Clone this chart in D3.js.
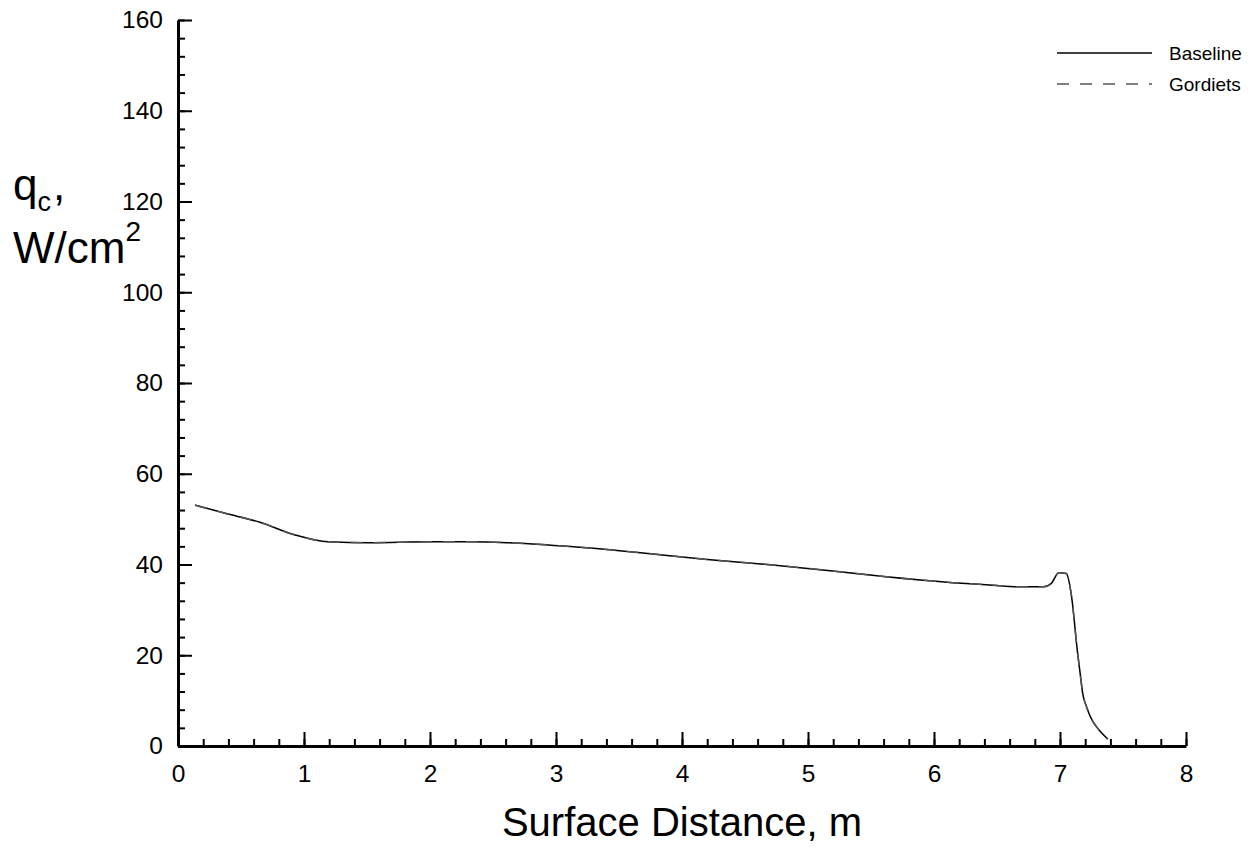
<!DOCTYPE html>
<html>
<head>
<meta charset="utf-8">
<script src="https://cdn.jsdelivr.net/npm/d3@7.9.0/dist/d3.min.js"></script>
<style>
  body { margin: 0; background: #fff; }
  svg { display: block; font-family: Arial, "Liberation Sans", sans-serif; }
</style>
</head>
<body>
<div id="chart"></div>
<script>
// surface distance (m) and convective heating (W/cm2)
const distance = [0.135, 0.36, 0.65, 0.93, 1.19, 1.52, 2.0, 2.32, 2.61, 3.14, 3.67, 4.2, 4.72,
  5.25, 5.62, 6.15, 6.44, 6.68, 6.87, 6.93, 6.99, 7.05, 7.09, 7.14, 7.16, 7.18, 7.21, 7.24, 7.28, 7.32, 7.38];
const baseline = [53.1, 51.4, 49.3, 46.5, 45.0, 44.8, 45.0, 45.0, 44.8, 43.9, 42.6, 41.1, 39.9,
  38.4, 37.3, 36.0, 35.5, 35.1, 35.1, 35.8, 38.2, 38.0, 33.3, 20.4, 16.0, 11.6, 8.7, 6.5, 4.6, 3.2, 1.5];
// Gordiets curve lies right on top of the baseline one
const gordiets = [53.1, 51.4, 49.3, 46.5, 45.0, 44.8, 45.0, 45.0, 44.8, 43.9, 42.6, 41.1, 39.9,
  38.4, 37.3, 36.0, 35.5, 35.1, 35.1, 35.8, 38.2, 38.0, 33.3, 20.4, 16.0, 11.6, 8.7, 6.5, 4.6, 3.2, 1.5];

const xTicks = [0, 1, 2, 3, 4, 5, 6, 7, 8];
const yTicks = [0, 20, 40, 60, 80, 100, 120, 140, 160];
const seriesNames = ['Baseline', 'Gordiets'];

const width = 1251;
const height = 848;
const plotLeft = 178, plotRight = 1186, plotTop = 20, plotBottom = 746;

const svg = d3.select('#chart')
  .append('svg')
  .attr('width', width)
  .attr('height', height);

const x = d3.scaleLinear().domain([0, 8]).range([plotLeft, plotRight]);
const y = d3.scaleLinear().domain([0, 160]).range([plotBottom, plotTop]);

// minor ticks first, no labels
svg.append('g')
  .attr('transform', `translate(0,${plotBottom})`)
  .call(d3.axisBottom(x).tickValues(d3.range(0, 8.01, 0.2)).tickSize(-7).tickFormat(''))
  .call(g => g.select('.domain').remove());
svg.append('g')
  .attr('transform', `translate(${plotLeft},0)`)
  .call(d3.axisLeft(y).tickValues(d3.range(0, 160.1, 4)).tickSize(-7).tickFormat(''))
  .call(g => g.select('.domain').remove());

const xAxis = svg.append('g')
  .attr('transform', `translate(0,${plotBottom})`)
  .call(d3.axisBottom(x).tickValues(xTicks).tickSize(-14).tickSizeOuter(0).tickPadding(19).tickFormat(d3.format('d')));
const yAxis = svg.append('g')
  .attr('transform', `translate(${plotLeft},0)`)
  .call(d3.axisLeft(y).tickValues(yTicks).tickSize(-14).tickSizeOuter(0).tickPadding(15).tickFormat(d3.format('d')));

svg.selectAll('.tick line').attr('stroke', '#000').attr('stroke-width', 2);
svg.selectAll('.domain').attr('stroke', '#000').attr('stroke-width', 3);
[xAxis, yAxis].forEach(g => g.selectAll('text')
  .attr('fill', '#000')
  .style('font-size', '24.5px')
  .style('font-family', 'Arial, "Liberation Sans", sans-serif'));

// axis titles
svg.append('text')
  .attr('x', 682).attr('y', 836)
  .attr('text-anchor', 'middle')
  .style('font-size', '40px')
  .text('Surface Distance, m');

const yl = svg.append('text').attr('x', 13).attr('y', 200).style('font-size', '44px');
yl.append('tspan').text('q');
yl.append('tspan').attr('dy', 11).style('font-size', '27px').text('c');
yl.append('tspan').attr('dy', -11).attr('dx', 2).text(',');
const yl2 = svg.append('text').attr('x', 13).attr('y', 263).style('font-size', '44px');
yl2.append('tspan').text('W/cm');
yl2.append('tspan').attr('dy', -22).style('font-size', '28px').text('2');

// curves
const line = d3.line()
  .x(d => x(d[0]))
  .y(d => y(d[1]))
  .curve(d3.curveMonotoneX);

const series = [
  { name: seriesNames[0], values: d3.zip(distance, baseline), dash: null, color: '#000' },
  { name: seriesNames[1], values: d3.zip(distance, gordiets), dash: '12,11', color: '#555' }
];

svg.append('g')
  .selectAll('path')
  .data(series)
  .join('path')
  .attr('d', d => line(d.values))
  .attr('fill', 'none')
  .attr('stroke', d => d.color)
  .attr('stroke-width', 1.5)
  .attr('stroke-dasharray', d => d.dash);

// legend
const legend = svg.append('g')
  .selectAll('g')
  .data(series)
  .join('g')
  .attr('transform', (d, i) => `translate(1057,${53 + i * 31})`);
legend.append('line')
  .attr('x1', 0).attr('x2', 95)
  .attr('stroke', d => d.color)
  .attr('stroke-width', 1.3)
  .attr('stroke-dasharray', d => d.dash);
legend.append('text')
  .attr('x', 112)
  .attr('dy', '0.35em')
  .style('font-size', '19px')
  .text(d => d.name);
</script>
</body>
</html>
